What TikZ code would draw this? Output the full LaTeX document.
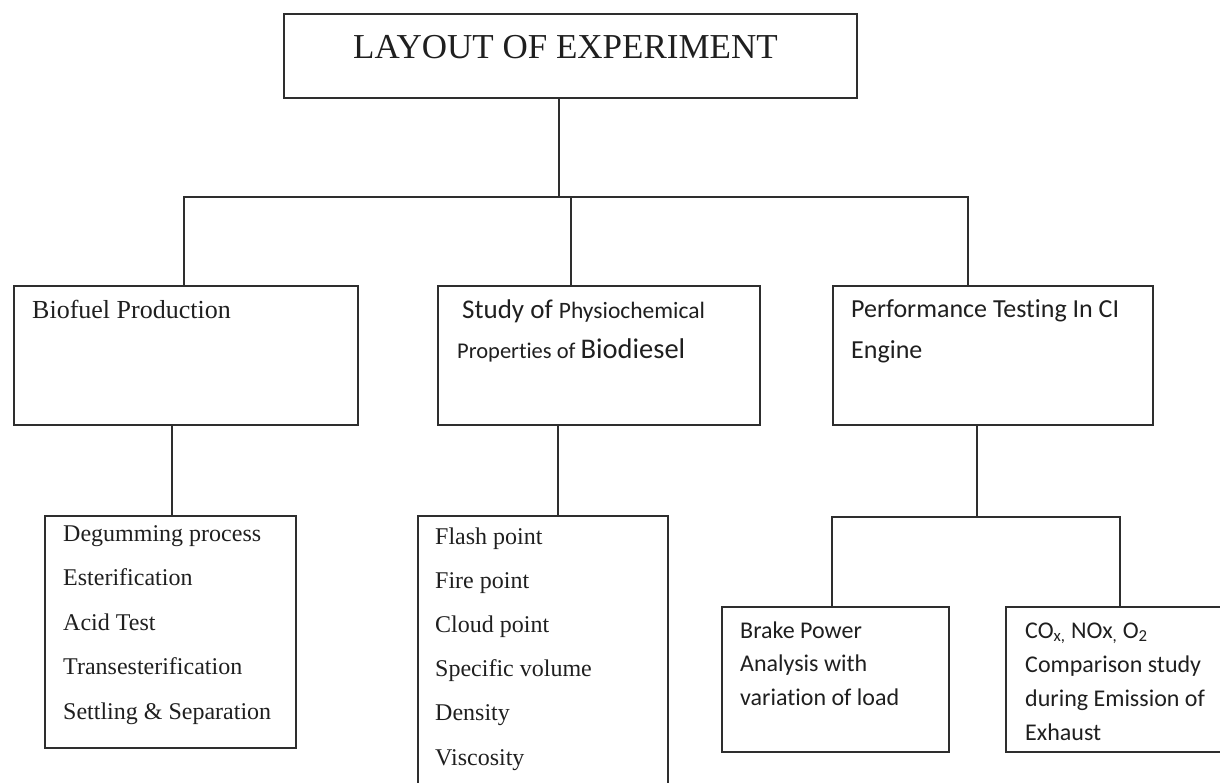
\documentclass[tikz,border=0pt]{standalone}
\usepackage{fontspec}
\setmainfont{Liberation Serif}
\newfontfamily\calibri[Ligatures=NoCommon]{Carlito}
\usepackage{tikz}
\definecolor{inkgray}{HTML}{2E2E2E}
\tikzset{
  layoutbox/.style={draw=inkgray,line width=1.4pt,inner sep=0pt,rectangle},
  layoutlink/.style={draw=inkgray,line width=1.4pt},
  layouttxt/.style={anchor=base west,inner sep=0pt,text=black!88},
  every picture/.style={font=\fontsize{24}{28}\selectfont}
}
\begin{document}
\begin{tikzpicture}[x=1pt,y=-1pt]
  \useasboundingbox (0,0) rectangle (1220,782);
  % boxes
  \node[layoutbox,minimum width=573pt,minimum height=84pt] (title) at (570.5,56) {};
  \node[layoutbox,minimum width=344pt,minimum height=139pt] (prod) at (186,355.5) {};
  \node[layoutbox,minimum width=322pt,minimum height=139pt] (props) at (599,355.5) {};
  \node[layoutbox,minimum width=320pt,minimum height=139pt] (perf) at (993,355.5) {};
  \node[layoutbox,minimum width=251pt,minimum height=232pt] (steps) at (170.5,632) {};
  \node[layoutbox,minimum width=250pt,minimum height=284pt] (tests) at (543,658) {};
  \node[layoutbox,minimum width=227pt,minimum height=145pt] (brake) at (835.5,679.5) {};
  \node[layoutbox,minimum width=234pt,minimum height=145pt] (emis) at (1123,679.5) {};
  % texts
  \node[layouttxt,font=\fontsize{35}{40}\selectfont] (titletxt) at (353,58) {LAYOUT OF EXPERIMENT};
  \node[layouttxt,font=\fontsize{26}{30}\selectfont] (prodtxt) at (32,318) {Biofuel Production};
  \node[layouttxt] (propsA) at (462,318)
    {\calibri\fontsize{27}{30}\selectfont Study of \fontsize{23.5}{30}\selectfont Physiochemical};
  \node[layouttxt] (propsB) at (457,358)
    {\calibri\fontsize{22.5}{30}\selectfont Properties of \fontsize{28.5}{30}\selectfont Biodiesel};
  \node[layouttxt,font=\calibri\fontsize{26}{30}\selectfont] (perfA) at (851,317) {Performance Testing In CI};
  \node[layouttxt,font=\calibri\fontsize{26}{30}\selectfont] (perfB) at (851,358) {Engine};
  \foreach \s [count=\i] in {Degumming process,Esterification,Acid Test,Transesterification,Settling \& Separation}
    \node[layouttxt] (step\i) at (63,{541+44.5*(\i-1)}) {\s};
  \foreach \s [count=\i] in {Flash point,Fire point,Cloud point,Specific volume,Density,Viscosity}
    \node[layouttxt] (test\i) at (435,{544+44.2*(\i-1)}) {\s};
  \foreach \s [count=\i] in {Brake Power,Analysis with,variation of load}
    \node[layouttxt,font=\calibri\fontsize{24}{28}\selectfont] (brake\i) at (740,{638+33.5*(\i-1)}) {\s};
  \foreach \s [count=\i] in {{CO\textsubscript{x,} NOx\textsubscript{,} O\textsubscript{2}},Comparison study,during Emission of,Exhaust}
    \node[layouttxt,font=\calibri\fontsize{24}{28}\selectfont] (emis\i) at (1025,{638+34*(\i-1)}) {\s};
  % connectors
  \coordinate (j0) at (559,197);
  \coordinate (j1) at (184,197);
  \coordinate (j2) at (571,197);
  \coordinate (j3) at (968,197);
  \draw[layoutlink] (title.south -| j0) -- (j0);
  \draw[layoutlink] (j1 |- prod.north) -- (j1) -- (j3) -- (j3 |- perf.north);
  \draw[layoutlink] (j2) -- (j2 |- props.north);
  \coordinate (k1) at (172,425);
  \draw[layoutlink] (k1) -- (k1 |- steps.north);
  \coordinate (k2) at (558,425);
  \draw[layoutlink] (k2) -- (k2 |- tests.north);
  \coordinate (k3) at (977,517);
  \coordinate (k3L) at (832,517);
  \coordinate (k3R) at (1120,517);
  \draw[layoutlink] (k3 |- perf.south) -- (k3);
  \draw[layoutlink] (k3L |- brake.north) -- (k3L) -- (k3R) -- (k3R |- emis.north);
\end{tikzpicture}
\end{document}
